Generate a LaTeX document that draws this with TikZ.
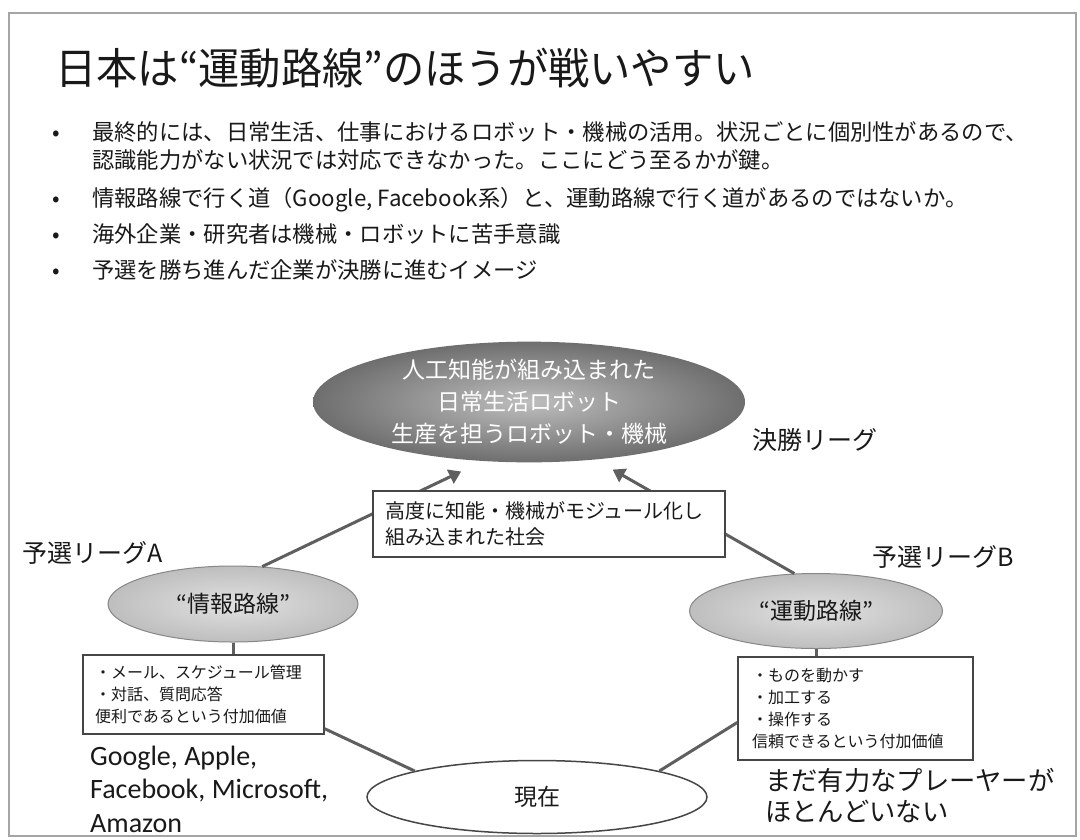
\documentclass[tikz,border=0pt]{standalone}
\usepackage{fontspec}
\setmainfont{Noto Sans CJK JP}
\newfontfamily\latinf{Carlito}
\newfontfamily\titlefont[FakeStretch=0.96]{Noto Sans CJK JP}
\usetikzlibrary{shapes.geometric,arrows.meta}
\definecolor{framec}{RGB}{165,165,165}
\definecolor{linec}{RGB}{95,95,95}
\definecolor{boxc}{RGB}{70,70,70}
\definecolor{txtc}{RGB}{25,25,25}
\definecolor{bigin}{RGB}{190,190,190}
\definecolor{bigout}{RGB}{110,110,110}
\definecolor{smin}{RGB}{225,225,225}
\definecolor{smout}{RGB}{190,190,190}
\definecolor{smdraw}{RGB}{135,135,135}
\begin{document}
\begin{tikzpicture}[x=1pt,y=-1pt,
  every node/.style={text=txtc},
  lbl/.style={anchor=base west, inner sep=0pt},
  bigell/.style={ellipse, inner sep=0pt, minimum width=432pt, minimum height=114pt,
     shading=radial, inner color=bigin, outer color=bigout, text=white, align=center,
     font=\fontsize{23}{32}\selectfont},
  smell/.style={ellipse, inner sep=0pt, draw=smdraw, line width=1pt,
     shading=radial, inner color=smin, outer color=smout,
     font=\fontsize{23}{28}\selectfont},
  nowell/.style={ellipse, inner sep=0pt, draw=boxc, line width=1.5pt, fill=white,
     minimum width=340pt, minimum height=73pt, font=\fontsize{23}{28}\selectfont},
  txtbox/.style={draw=boxc, line width=1.5pt, fill=white, align=left, inner ysep=0pt},
  conn/.style={draw=linec, line width=3pt},
  arr/.style={conn, -{Triangle[width=15pt,length=12pt]}}
]
\useasboundingbox (0,0) rectangle (1080,839);
\fill[white] (0,0) rectangle (1080,839);
\draw[framec, line width=1.5pt] (9,13) rectangle (1076,836);

% title
\node[lbl, font=\titlefont\fontsize{43}{50}\selectfont] (title) at (55,84) {日本は“運動路線”のほうが戦いやすい};

% bullets
\begin{scope}[every node/.append style={font=\fontsize{22.3}{27}\selectfont}]
\node[lbl] (b1) at (92,140.5) {最終的には、日常生活、仕事におけるロボット・機械の活用。状況ごとに個別性があるので、};
\node[lbl] (b1b) at (92,168.5) {認識能力がない状況では対応できなかった。ここにどう至るかが鍵。};
\node[lbl] (b2) at (92,206.5) {情報路線で行く道（Google, Facebook系）と、運動路線で行く道があるのではないか。};
\node[lbl] (b3) at (92,242.5) {海外企業・研究者は機械・ロボットに苦手意識};
\node[lbl] (b4) at (92,278.5) {予選を勝ち進んだ企業が決勝に進むイメージ};
\node[lbl] (d1) at (52,140.5) {•};
\node[lbl] (d2) at (52,206.5) {•};
\node[lbl] (d3) at (52,242.5) {•};
\node[lbl] (d4) at (52,278.5) {•};
\end{scope}

% ellipses
\node[bigell] (final) at (529,402) {人工知能が組み込まれた\\日常生活ロボット\\生産を担うロボット・機械};
\node[smell, minimum width=250pt, minimum height=76pt] (info) at (233,604) {“情報路線”};
\node[smell, minimum width=253pt, minimum height=75pt] (motion) at (816,611) {“運動路線”};
\node[nowell] (now) at (537,797) {現在};

% arrows to final
\draw[arr, shorten >=24pt] (info.52) -- (final.232);
\draw[arr, shorten >=20pt] (motion.120) -- (final.319);

% boxes
\node[txtbox, text width=328pt, inner xsep=12pt, minimum height=66pt, font=\fontsize{20}{26}\selectfont] (mid) at (549,524)
  {高度に知能・機械がモジュール化し\\組み込まれた社会};
\node[txtbox, text width=217pt, inner xsep=12pt, minimum height=79pt, font=\fontsize{16}{22}\selectfont] (lbox) at (203.5,694.5)
  {・メール、スケジュール管理\\・対話、質問応答\\便利であるという付加価値};
\node[txtbox, text width=207pt, inner xsep=14pt, minimum height=103pt, font=\fontsize{16}{22.3}\selectfont] (rbox) at (855.5,708.5)
  {・ものを動かす\\・加工する\\・操作する\\信頼できるという付加価値};

% connectors
\draw[conn] (info.south) -- (info.south |- lbox.north);
\draw[conn] (motion.south) -- (motion.south |- rbox.north);
\draw[conn] ([yshift=6pt]lbox.south east) -- (now.168);
\draw[conn] (now.12) -- ([yshift=-14pt]rbox.west);

% labels
\node[lbl, font=\fontsize{25}{30}\selectfont] (la) at (22,562.5) {予選リーグA};
\node[lbl, font=\fontsize{25}{30}\selectfont] (lf) at (752,449.5) {決勝リーグ};
\node[lbl, font=\fontsize{25}{30}\selectfont] (lb) at (872,566.5) {予選リーグB};
\node[lbl, font=\fontsize{26.3}{31}\selectfont] (m1) at (765,790) {まだ有力なプレーヤーが};
\node[lbl, font=\fontsize{26.3}{31}\selectfont] (m2) at (765,821) {ほとんどいない};
\node[lbl, font=\latinf\fontsize{28}{33}\selectfont] (g1) at (90,765) {Google, Apple,};
\node[lbl, font=\latinf\fontsize{28}{33}\selectfont] (g2) at (90,798.5) {Facebook, Microsoft,};
\node[lbl, font=\latinf\fontsize{28}{33}\selectfont] (g3) at (90,832) {Amazon};
\end{tikzpicture}
\end{document}
